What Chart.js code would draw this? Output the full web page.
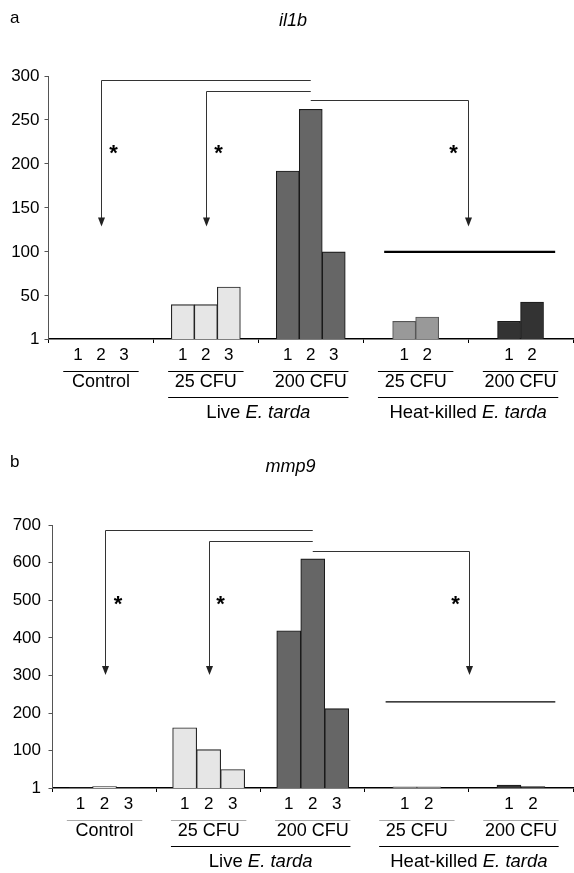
<!DOCTYPE html>
<html>
<head>
<meta charset="utf-8">
<script src="https://cdn.jsdelivr.net/npm/chart.js@4.4.1/dist/chart.umd.min.js"></script>
<style>
  html, body { margin: 0; padding: 0; background: #fff; }
  #wrap { position: relative; width: 574px; height: 873px; }
  canvas { position: absolute; left: 0; }
  #panelA { top: 0; }
  #panelB { top: 430px; }
</style>
</head>
<body>
<div id="wrap">
  <canvas id="panelA" width="574" height="430"></canvas>
  <canvas id="panelB" width="574" height="443"></canvas>
</div>
<script>
'use strict';
const FONT = '"Liberation Sans", Arial, sans-serif';

// groups on the x axis
const groups = ['Control', '25 CFU', '200 CFU', '25 CFU', '200 CFU'];
const groupColors = ['#e6e6e6', '#e6e6e6', '#666666', '#999999', '#333333'];
const groupBorders = ['#222222', '#222222', '#1a1a1a', '#555555', '#1a1a1a'];
const superLabels = ['Live', 'Heat-killed'];
const superSpans = [[1, 2], [3, 4]];
const species = 'E. tarda';

// il1b fold change, replicate 1 / 2 / 3 of each group
const il1bRep1 = [1, 40, 192, 21, 21];
const il1bRep2 = [1, 40, 262, 26, 43];
const il1bRep3 = [1, 60, 100, null, null];
const il1bTicks = [1, 50, 100, 150, 200, 250, 300];
const il1bHeatLine = 100;

// mmp9 fold change
const mmp9Rep1 = [1, 161, 419, 4, 9];
const mmp9Rep2 = [5, 103, 610, 4, 5];
const mmp9Rep3 = [1, 50, 212, null, null];
const mmp9Ticks = [1, 100, 200, 300, 400, 500, 600, 700];
const mmp9HeatLine = 230;

// significance brackets: all start at Live 200 CFU and point at these groups
const bracketTargets = [0, 1, 3.5];
const il1bBracketLevels = [295, 283, 273];
const mmp9BracketLevels = [687, 658, 632];

function hline(ctx, x1, x2, y) {
    ctx.beginPath();
    ctx.moveTo(x1, y);
    ctx.lineTo(x2, y);
    ctx.stroke();
}

// text made of several runs with different fonts, centred on cx
function mixedText(ctx, parts, cx, cy) {
    let total = 0;
    const widths = parts.map(([txt, font]) => {
        ctx.font = font;
        const w = ctx.measureText(txt).width;
        total += w;
        return w;
    });
    let x = cx - total / 2;
    ctx.textAlign = 'left';
    parts.forEach(([txt, font], i) => {
        ctx.font = font;
        ctx.fillText(txt, x, cy);
        x += widths[i];
    });
}

const figurePlugin = {
    id: 'figure',
    afterDraw(chart, args, o) {
        const ctx = chart.ctx;
        const xs = chart.scales.x;
        const ys = chart.scales.y;
        const bottom = chart.chartArea.bottom;
        ctx.save();
        ctx.fillStyle = '#000';

        // panel letter + gene name
        ctx.textAlign = 'left';
        ctx.textBaseline = 'alphabetic';
        ctx.font = '17px ' + FONT;
        ctx.fillText(o.letter, 10, o.letterY);
        ctx.textAlign = 'center';
        ctx.font = 'italic 18px ' + FONT;
        ctx.fillText(o.gene, o.geneX, o.geneY);

        // line across the heat-killed groups
        ctx.strokeStyle = '#000';
        ctx.lineWidth = o.heatWidth;
        hline(ctx, xs.getPixelForValue(2.7), xs.getPixelForValue(4.33), ys.getPixelForValue(o.heatLine));

        // brackets with arrows and stars
        ctx.strokeStyle = '#333';
        ctx.fillStyle = '#222';
        ctx.lineWidth = 1;
        const fromX = xs.getPixelForValue(2);
        const tipY = ys.getPixelForValue(o.tip);
        const starY = ys.getPixelForValue(o.star);
        o.levels.forEach((lvl, i) => {
            const tx = Math.round(xs.getPixelForValue(bracketTargets[i])) + 0.5;
            const ly = Math.round(ys.getPixelForValue(lvl)) + 0.5;
            ctx.beginPath();
            ctx.moveTo(fromX, ly);
            ctx.lineTo(tx, ly);
            ctx.lineTo(tx, tipY - 6);
            ctx.stroke();
            ctx.beginPath();
            ctx.moveTo(tx - 3.5, tipY - 9);
            ctx.lineTo(tx + 3.5, tipY - 9);
            ctx.lineTo(tx, tipY);
            ctx.closePath();
            ctx.fill();
            ctx.font = 'bold 22px ' + FONT;
            ctx.textAlign = 'center';
            ctx.textBaseline = 'alphabetic';
            ctx.fillStyle = '#000';
            ctx.fillText('*', tx + o.starDx[i], starY + 12.5);
            ctx.fillStyle = '#222';
        });

        // replicate numbers under each bar
        ctx.fillStyle = '#000';
        ctx.textAlign = 'center';
        ctx.textBaseline = 'middle';
        ctx.font = '17px ' + FONT;
        chart.data.datasets.forEach((ds, di) => {
            const meta = chart.getDatasetMeta(di);
            ds.data.forEach((v, i) => {
                if (v === null) return;
                ctx.fillText(String(di + 1), meta.data[i].x, bottom + 16);
            });
        });

        // group names with a rule above
        const half = 37.7;
        ctx.lineWidth = 1.2;
        groups.forEach((g, i) => {
            const cx = xs.getPixelForValue(i);
            ctx.strokeStyle = o.groupRule;
            hline(ctx, cx - half, cx + half, Math.round(bottom + 32) + 0.5);
            ctx.font = '18px ' + FONT;
            ctx.fillText(g, cx, bottom + 43);
        });

        // Live / Heat-killed
        ctx.strokeStyle = '#000';
        superLabels.forEach((lab, k) => {
            const a = xs.getPixelForValue(superSpans[k][0]);
            const b = xs.getPixelForValue(superSpans[k][1]);
            hline(ctx, a - half, b + half, Math.round(bottom + 57.5) + 0.5);
            mixedText(ctx, [[lab + ' ', '18.5px ' + FONT], [species, 'italic 18.5px ' + FONT]], (a + b) / 2, bottom + 73.5);
        });
        ctx.restore();
    },
};

function makeChart(id, reps, ticks, cfg) {
    return new Chart(document.getElementById(id), {
        type: 'bar',
        data: {
            labels: groups,
            datasets: reps.map((r) => ({
                data: r,
                backgroundColor: groupColors,
                borderColor: groupBorders,
                borderWidth: 1.1,
                barThickness: cfg.barWidth,
                skipNull: true,
            })),
        },
        options: {
            responsive: false,
            animation: false,
            events: [],
            layout: { padding: { top: cfg.top, right: 1, left: 0, bottom: 0 } },
            scales: {
                x: {
                    type: 'category',
                    offset: true,
                    grid: { offset: true, drawOnChartArea: false, drawTicks: true, tickLength: 4, color: '#000' },
                    border: { display: true, color: '#000', width: 1.6 },
                    ticks: { display: false },
                    afterFit(s) { s.height = cfg.xHeight; },
                },
                y: {
                    min: ticks[0],
                    max: ticks[ticks.length - 1],
                    afterBuildTicks(s) { s.ticks = ticks.map((v) => ({ value: v })); },
                    grid: { drawOnChartArea: false, tickLength: 4, color: '#555' },
                    border: { display: true, color: '#555', width: 1 },
                    ticks: { color: '#000', font: { family: FONT, size: 17 }, padding: cfg.tickPad },
                    afterFit(s) { s.width = cfg.yWidth; },
                },
            },
            plugins: {
                legend: { display: false },
                tooltip: { enabled: false },
                figure: cfg.figure,
            },
        },
        plugins: [figurePlugin],
    });
}

makeChart('panelA', [il1bRep1, il1bRep2, il1bRep3], il1bTicks, {
    top: 76, xHeight: 91, yWidth: 48.5, tickPad: 5, barWidth: 23,
    figure: {
        letter: 'a', letterY: 23, gene: 'il1b', geneX: 293, geneY: 26,
        heatLine: il1bHeatLine, heatWidth: 2.4,
        levels: il1bBracketLevels, tip: 129, star: 219, starDx: [12, 12, -15],
        groupRule: '#000',
    },
});

makeChart('panelB', [mmp9Rep1, mmp9Rep2, mmp9Rep3], mmp9Ticks, {
    top: 95, xHeight: 85, yWidth: 52.5, tickPad: 7.5, barWidth: 24,
    figure: {
        letter: 'b', letterY: 37, gene: 'mmp9', geneX: 290.5, geneY: 42,
        heatLine: mmp9HeatLine, heatWidth: 1.2,
        levels: mmp9BracketLevels, tip: 301, star: 505, starDx: [12.5, 11, -14],
        groupRule: '#aaa',
    },
});
</script>
</body>
</html>
